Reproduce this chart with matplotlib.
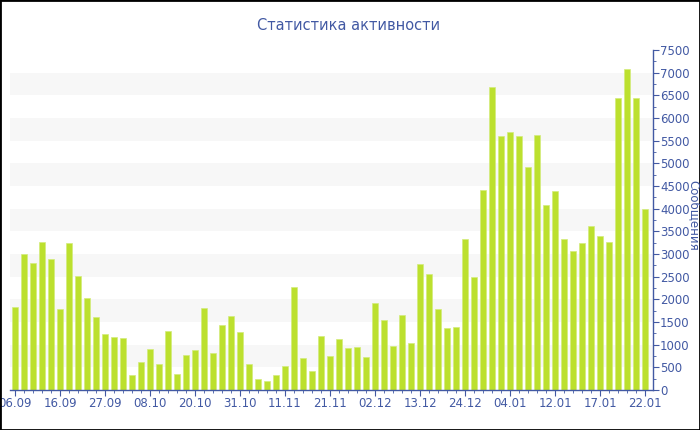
import numpy as np
import matplotlib
matplotlib.use('Agg')
import matplotlib.pyplot as plt
from matplotlib.patches import Rectangle
from matplotlib.ticker import MultipleLocator

plt.rcParams.update({'font.family': 'DejaVu Sans'})

TITLE = 'Статистика активности'
YLABEL = 'Сообщения'

# messages per bar (71 periods)
values = [
    1840, 3000, 2800, 3265, 2880, 1795, 3235, 2515, 2030, 1600,
    1230, 1170, 1140, 320, 625, 905, 565, 1300, 355, 765,
    875, 1800, 815, 1425, 1640, 1270, 575, 235, 205, 340,
    520, 2265, 705, 420, 1190, 745, 1125, 935, 940, 720,
    1910, 1535, 980, 1655, 1030, 2785, 2550, 1795, 1375, 1395,
    3330, 2500, 4410, 6690, 5600, 5685, 5610, 4925, 5630, 4075,
    4395, 3340, 3075, 3250, 3610, 3405, 3260, 6450, 7090, 6450,
    3985,
]
tick_labels = ['06.09', '16.09', '27.09', '08.10', '20.10', '31.10', '11.11',
               '21.11', '02.12', '13.12', '24.12', '04.01', '12.01', '17.01',
               '22.01']

BLUE = '#4259a3'
BAR = '#bce02e'
BAR_EDGE = '#d3ec7c'
BAND = '#f7f7f7'

fig = plt.figure(figsize=(7, 4.3), dpi=100)
ax = fig.add_axes([10 / 700, 40 / 430, 643 / 700, 340 / 430])

x = np.arange(len(values))
ax.set_xlim(-0.56, len(values) - 1 + 0.89)
ax.set_ylim(0, 7500)

# alternating horizontal bands
for lo in range(500, 7500, 1000):
    ax.axhspan(lo, lo + 500, color=BAND, lw=0, zorder=0)

ax.bar(x, values, width=0.74, color=BAR, edgecolor=BAR_EDGE, linewidth=0.5,
       zorder=2)

ax.set_xticks(x[::5])
ax.set_xticklabels(tick_labels)
ax.xaxis.set_minor_locator(MultipleLocator(1))
ax.yaxis.tick_right()
ax.yaxis.set_major_locator(MultipleLocator(500))
ax.yaxis.set_minor_locator(MultipleLocator(250))

for s in ['top', 'left']:
    ax.spines[s].set_visible(False)
for s in ['bottom', 'right']:
    ax.spines[s].set_color(BLUE)
    ax.spines[s].set_linewidth(1)

ax.tick_params(axis='both', colors=BLUE, labelsize=8.5, length=4, width=0.8,
               pad=1)
ax.tick_params(axis='both', which='minor', colors=BLUE, length=2, width=0.6)

fig.text(349 / 700, 1 - 25 / 430, TITLE, ha='center', va='center',
         color=BLUE, fontsize=10.5)
fig.text(694 / 700, 1 - 215 / 430, YLABEL, ha='center', va='center',
         rotation=270, color=BLUE, fontsize=8.5)

# outer frame
fig.patches.append(Rectangle((0, 0), 1, 1, transform=fig.transFigure,
                             fill=False, edgecolor='black', linewidth=2))

fig.savefig('out.png', dpi=100)
